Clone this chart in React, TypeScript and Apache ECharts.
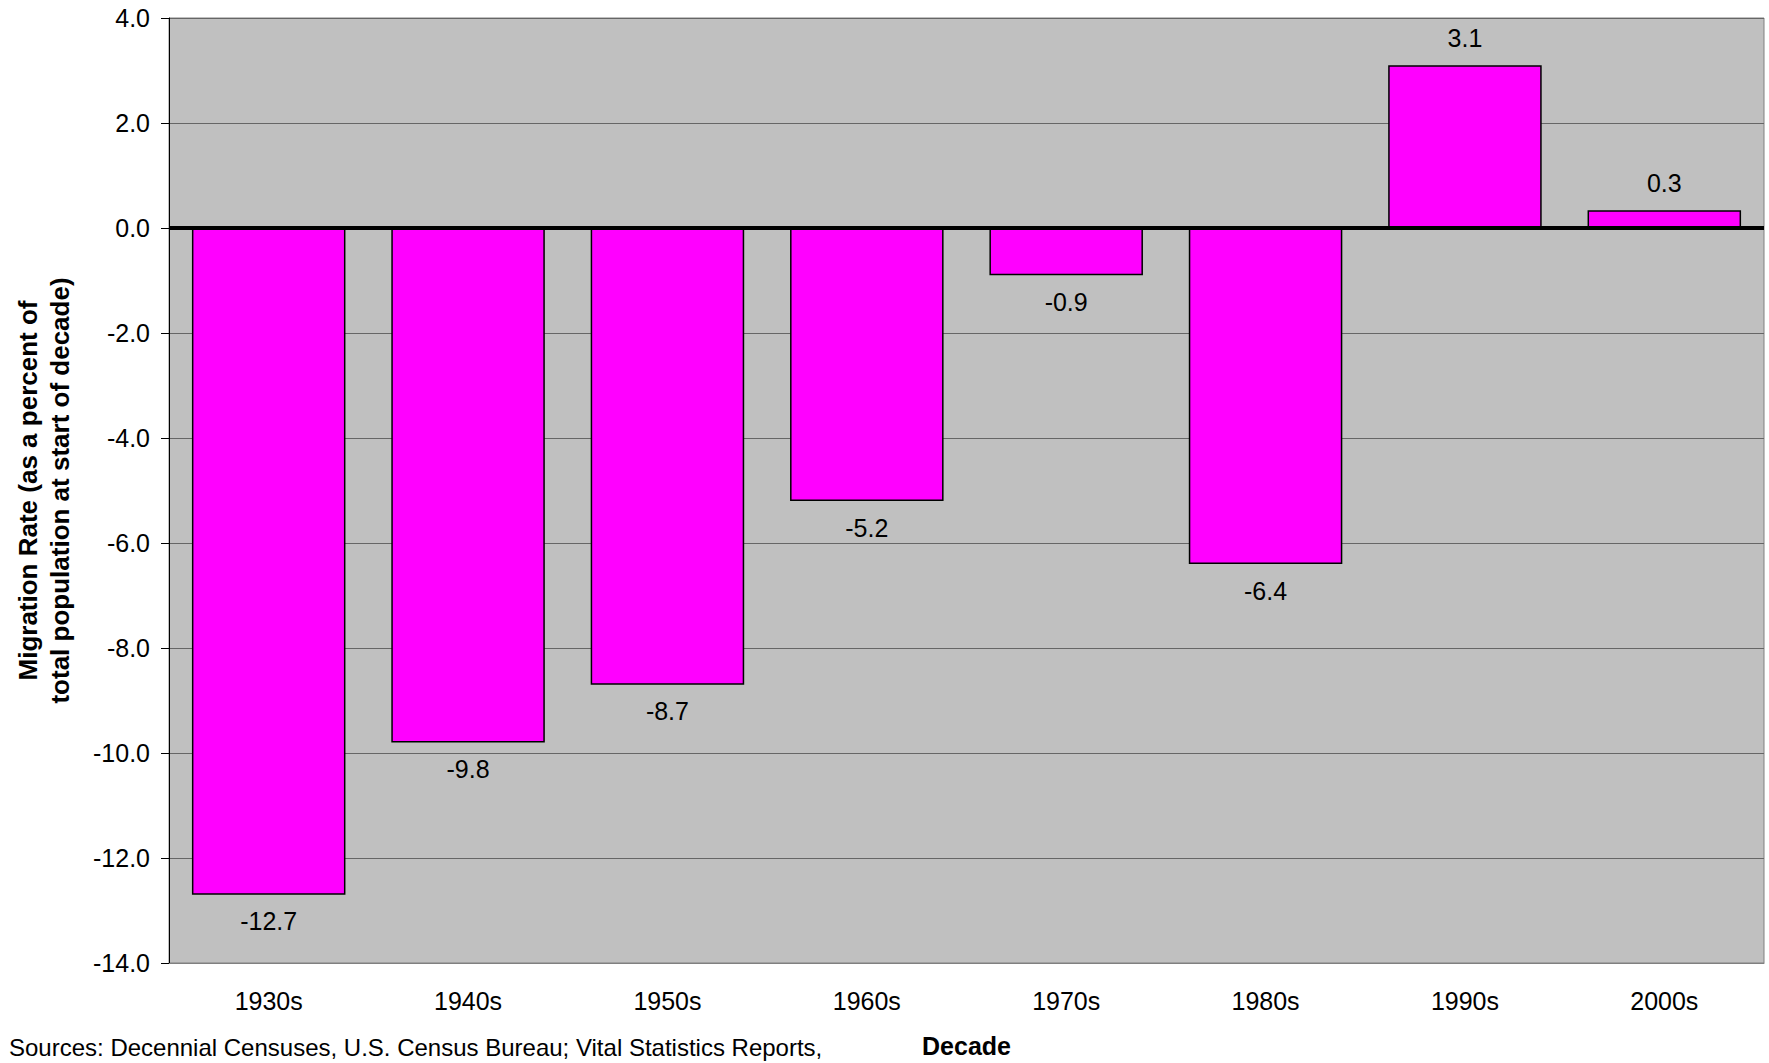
import React, { useEffect, useRef } from "react";
import * as echarts from "echarts";

const categories = ["1930s", "1940s", "1950s", "1960s", "1970s", "1980s", "1990s", "2000s"];
const migrationRates = [-12.7, -9.8, -8.7, -5.2, -0.9, -6.4, 3.1, 0.34];
const yTitle = "Migration Rate (as a percent of\ntotal population at start of decade)";
const xTitle = "Decade";
const sourcesText = "Sources: Decennial Censuses, U.S. Census Bureau; Vital Statistics Reports,";

export default function App() {
  const ref = useRef<HTMLDivElement>(null);
  useEffect(() => {
    if (!ref.current) return;
    const chart = echarts.init(ref.current, null, { renderer: "svg" });
    const font = "'Liberation Sans', Arial, sans-serif";
    chart.setOption({
      animation: false,
      backgroundColor: "#ffffff",
      textStyle: { fontFamily: font },
      grid: {
        left: 169,
        right: 5,
        top: 18,
        bottom: 99,
        show: true,
        backgroundColor: "#C0C0C0",
        borderColor: "#808080",
        borderWidth: 1,
      },
      xAxis: {
        type: "category",
        data: categories,
        name: xTitle,
        nameLocation: "middle",
        nameGap: 70,
        nameTextStyle: { fontSize: 25, fontWeight: "bold", color: "#000", fontFamily: font },
        axisLine: { onZero: false, lineStyle: { color: "#808080", width: 1 } },
        axisTick: { show: false },
        axisLabel: { margin: 25, fontSize: 25, color: "#000", fontFamily: font },
      },
      yAxis: {
        type: "value",
        min: -14,
        max: 4,
        interval: 2,
        name: yTitle,
        nameLocation: "middle",
        nameGap: 93,
        nameTextStyle: { fontSize: 26, fontWeight: "bold", color: "#000", lineHeight: 32, fontFamily: font },
        axisLine: { show: true, lineStyle: { color: "#000", width: 1 } },
        axisTick: { show: true, length: 8, lineStyle: { color: "#000" } },
        axisLabel: {
          margin: 19,
          fontSize: 25,
          color: "#000",
          fontFamily: font,
          formatter: (v: number) => v.toFixed(1),
        },
        splitLine: { show: true, lineStyle: { color: "#666666", width: 1 } },
      },
      series: [
        {
          type: "bar",
          barCategoryGap: "23%",
          data: migrationRates.map((v) => ({
            value: v,
            label: {
              show: true,
              position: v >= 0 ? "top" : "bottom",
              distance: v >= 0 ? 15 : 14,
              fontSize: 25,
              color: "#000",
              fontFamily: font,
              formatter: (p: any) => Number(p.value).toFixed(1),
            },
          })),
          itemStyle: { color: "#FF00FF", borderColor: "#000", borderWidth: 1.5 },
          markLine: {
            silent: true,
            symbol: "none",
            label: { show: false },
            lineStyle: { color: "#000", width: 4, type: "solid" },
            data: [{ yAxis: 0 }],
          },
        },
      ],
      graphic: [
        {
          type: "text",
          left: 9,
          top: 1035,
          style: { text: sourcesText, fontSize: 24, fill: "#000", fontFamily: font },
        },
      ],
    });
    return () => chart.dispose();
  }, []);
  return <div ref={ref} style={{ position: "absolute", left: 0, top: 0, width: 1769, height: 1063 }} />;
}
